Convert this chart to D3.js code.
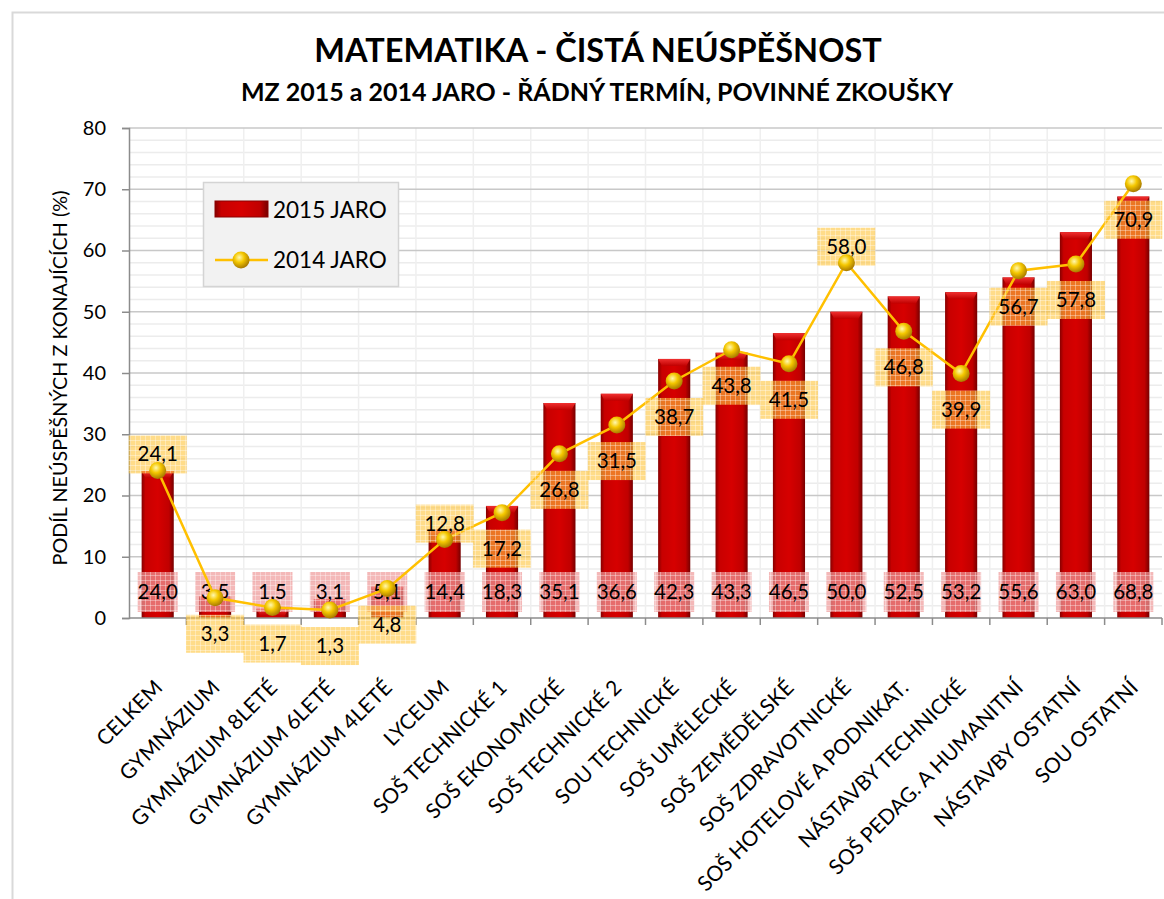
<!DOCTYPE html>
<html>
<head>
<meta charset="utf-8">
<script src="https://cdn.jsdelivr.net/npm/d3@7"></script>
<style>
  body { margin: 0; background: #fff; }
  text { font-family: Lato, "Open Sans", sans-serif; fill: #000; }
</style>
</head>
<body>
<svg id="chart" width="1164" height="899"></svg>
<script>
// data
var categories = ["CELKEM", "GYMNÁZIUM", "GYMNÁZIUM 8LETÉ", "GYMNÁZIUM 6LETÉ", "GYMNÁZIUM 4LETÉ",
  "LYCEUM", "SOŠ TECHNICKÉ 1", "SOŠ EKONOMICKÉ", "SOŠ TECHNICKÉ 2", "SOU TECHNICKÉ",
  "SOŠ UMĚLECKÉ", "SOŠ ZEMĚDĚLSKÉ", "SOŠ ZDRAVOTNICKÉ", "SOŠ HOTELOVÉ A PODNIKAT.",
  "NÁSTAVBY TECHNICKÉ", "SOŠ PEDAG. A HUMANITNÍ", "NÁSTAVBY OSTATNÍ", "SOU OSTATNÍ"];
var jaro2015 = [24.0, 3.5, 1.5, 3.1, 5.1, 14.4, 18.3, 35.1, 36.6, 42.3, 43.3, 46.5, 50.0, 52.5, 53.2, 55.6, 63.0, 68.8];
var jaro2014 = [24.1, 3.3, 1.7, 1.3, 4.8, 12.8, 17.2, 26.8, 31.5, 38.7, 43.8, 41.5, 58.0, 46.8, 39.9, 56.7, 57.8, 70.9];
// where Excel put the 2014 labels: above or below the point
var labelPos2014 = ["above", "below", "below", "below", "below", "above", "below", "below", "below", "below",
  "below", "below", "above", "below", "below", "below", "below", "below"];
var yTicks = [0, 10, 20, 30, 40, 50, 60, 70, 80];

var svg = d3.select("#chart");
var fmt = function(v) { return v.toFixed(1).replace(".", ","); };

var plot = {left: 129, right: 1162, top: 128, bottom: 618};

var x = d3.scaleBand().domain(categories).range([plot.left, plot.right]).padding(0);
var y = d3.scaleLinear().domain([0, 80]).range([plot.bottom, plot.top]);
var barW = x.bandwidth() * 0.56;
var cx = function(i) { return x(categories[i]) + x.bandwidth() / 2; };

// gradients & patterns
var defs = svg.append("defs");
var bg = defs.append("linearGradient").attr("id", "barGrad").attr("x1", 0).attr("x2", 1).attr("y1", 0).attr("y2", 0);
[["0%", "#860000"], ["12%", "#c80000"], ["50%", "#d60000"], ["85%", "#c00000"], ["100%", "#760000"]]
  .forEach(function(s) { bg.append("stop").attr("offset", s[0]).attr("stop-color", s[1]); });
var cap = defs.append("linearGradient").attr("id", "capGrad").attr("x1", 0).attr("x2", 0).attr("y1", 0).attr("y2", 1);
cap.append("stop").attr("offset", "0%").attr("stop-color", "#f03030");
cap.append("stop").attr("offset", "100%").attr("stop-color", "#c00000");
var ball = defs.append("radialGradient").attr("id", "ballGrad").attr("cx", "40%").attr("cy", "35%").attr("r", "65%");
ball.append("stop").attr("offset", "0%").attr("stop-color", "#fff8b0");
ball.append("stop").attr("offset", "45%").attr("stop-color", "#f5c800");
ball.append("stop").attr("offset", "100%").attr("stop-color", "#a87a00");

function hatch(id, base, op) {
  var p = defs.append("pattern").attr("id", id).attr("width", 5).attr("height", 5).attr("patternUnits", "userSpaceOnUse");
  p.append("rect").attr("width", 5).attr("height", 5).attr("fill", base).attr("fill-opacity", op);
  p.append("path").attr("d", "M0,0.5H5M0.5,0V5").attr("stroke", "#fff").attr("stroke-opacity", 0.35).attr("stroke-width", 1);
}
hatch("pinkHatch", "#f09a9a", 0.7);
hatch("goldHatch", "#ffc53a", 0.6);

// outer border
svg.append("rect").attr("x", 12.5).attr("y", 12.5).attr("width", 1200).attr("height", 1000)
  .attr("fill", "#fff").attr("stroke", "#d9d9d9").attr("stroke-width", 2);

// titles
svg.append("text").attr("x", 598).attr("y", 62).attr("text-anchor", "middle")
  .style("font-size", "32.5px").style("font-weight", "bold").text("MATEMATIKA - ČISTÁ NEÚSPĚŠNOST");
svg.append("text").attr("x", 597).attr("y", 101).attr("text-anchor", "middle")
  .style("font-size", "25px").style("font-weight", "bold").text("MZ 2015 a 2014 JARO - ŘÁDNÝ TERMÍN, POVINNÉ ZKOUŠKY");

// minor gridlines
var g = svg.append("g");
g.selectAll(".minor").data(d3.range(0, 81, 2).filter(function(v) { return v % 10 !== 0; }))
  .enter().append("line")
  .attr("x1", plot.left).attr("x2", plot.right)
  .attr("y1", function(d) { return y(d); }).attr("y2", function(d) { return y(d); })
  .attr("stroke", "#ececec").attr("stroke-width", 1.5);
// vertical gridlines at category boundaries
g.selectAll(".vgrid").data(categories.slice(1)).enter().append("line")
  .attr("x1", function(d) { return x(d); }).attr("x2", function(d) { return x(d); })
  .attr("y1", plot.top).attr("y2", plot.bottom)
  .attr("stroke", "#efefef").attr("stroke-width", 1.5);
// major gridlines
g.selectAll(".major").data(yTicks.slice(1)).enter().append("line")
  .attr("x1", plot.left).attr("x2", plot.right)
  .attr("y1", function(d) { return y(d); }).attr("y2", function(d) { return y(d); })
  .attr("stroke", "#c8c8c8").attr("stroke-width", 1.5);

// y axis
var yAxis = svg.append("g").attr("transform", "translate(" + plot.left + ",0)")
  .call(d3.axisLeft(y).tickValues(yTicks).tickSize(7).tickPadding(16).tickFormat(d3.format("d")));
yAxis.selectAll("path, line").attr("stroke", "#8c8c8c").attr("stroke-width", 1.5);
yAxis.selectAll("text").style("font-size", "20px").style("font-family", "Lato, sans-serif").attr("fill", "#000");

svg.append("text").attr("transform", "translate(67,378) rotate(-90)").attr("text-anchor", "middle")
  .style("font-size", "19.8px").text("PODÍL NEÚSPĚŠNÝCH Z KONAJÍCÍCH (%)");

// bars
var bars = svg.append("g");
bars.selectAll(".bar").data(jaro2015).enter().append("rect")
  .attr("x", function(d, i) { return cx(i) - barW / 2; })
  .attr("y", function(d) { return y(d); })
  .attr("width", barW)
  .attr("height", function(d) { return y(0) - y(d); })
  .attr("fill", "url(#barGrad)");
bars.selectAll(".cap").data(jaro2015).enter().append("path")
  .attr("d", function(d, i) {
    var l = cx(i) - barW / 2, r = cx(i) + barW / 2, t = y(d), h = Math.min(7, y(0) - y(d));
    return "M" + l + "," + t + "H" + r + "L" + (r - 4) + "," + (t + h) + "H" + (l + 4) + "Z";
  })
  .attr("fill", "url(#capGrad)");

// x axis line + ticks at boundaries
var xAxis = svg.append("g");
xAxis.append("line").attr("x1", plot.left).attr("x2", plot.right).attr("y1", y(0)).attr("y2", y(0))
  .attr("stroke", "#8c8c8c").attr("stroke-width", 1.5);
xAxis.selectAll(".xt").data(categories.slice(1).concat(["_end"])).enter().append("line")
  .attr("x1", function(d) { return d === "_end" ? plot.right : x(d); })
  .attr("x2", function(d) { return d === "_end" ? plot.right : x(d); })
  .attr("y1", y(0)).attr("y2", y(0) + 7)
  .attr("stroke", "#8c8c8c").attr("stroke-width", 1.5);
xAxis.selectAll(".xl").data(categories).enter().append("text")
  .attr("transform", function(d, i) { return "translate(" + (cx(i) + 6) + "," + 689 + ") rotate(-45)"; })
  .attr("text-anchor", "end")
  .style("font-size", "21px")
  .text(function(d) { return d; });

// 2015 labels at bar base
var bl = svg.append("g");
bl.selectAll("rect").data(jaro2015).enter().append("rect")
  .attr("x", function(d, i) { return cx(i) - 20; }).attr("y", 572)
  .attr("width", 40).attr("height", 40).attr("fill", "url(#pinkHatch)");
bl.selectAll("text").data(jaro2015).enter().append("text")
  .attr("x", function(d, i) { return cx(i); }).attr("y", 599)
  .attr("text-anchor", "middle").style("font-size", "20.5px")
  .text(fmt);

// 2014 line
var line = d3.line().x(function(d, i) { return cx(i); }).y(function(d) { return y(d); });
svg.append("path").datum(jaro2014).attr("d", line)
  .attr("fill", "none").attr("stroke", "#ffc000").attr("stroke-width", 2.5);

// 2014 labels
var ll = svg.append("g");
var labelY = function(d, i) { return labelPos2014[i] === "above" ? y(d) - 16 : y(d) + 36; };
ll.selectAll("rect").data(jaro2014).enter().append("rect")
  .attr("x", function(d, i) { return cx(i) - 29; })
  .attr("y", function(d, i) { return labelY(d, i) - 19; })
  .attr("width", 58).attr("height", 38).attr("fill", "url(#goldHatch)");
ll.selectAll("text").data(jaro2014).enter().append("text")
  .attr("x", function(d, i) { return cx(i); })
  .attr("y", function(d, i) { return labelY(d, i) + 7; })
  .attr("text-anchor", "middle").style("font-size", "20.5px")
  .text(fmt);

// markers
svg.append("g").selectAll("circle").data(jaro2014).enter().append("circle")
  .attr("cx", function(d, i) { return cx(i); }).attr("cy", function(d) { return y(d); })
  .attr("r", 8.5).attr("fill", "url(#ballGrad)");

// legend
var lg = svg.append("g");
lg.append("rect").attr("x", 203.5).attr("y", 182.5).attr("width", 195).attr("height", 104)
  .attr("fill", "#f2f2f2").attr("stroke", "#d4d4d4").attr("stroke-width", 1.5);
lg.append("rect").attr("x", 215).attr("y", 201).attr("width", 53).attr("height", 16)
  .attr("fill", "url(#barGrad)").attr("stroke", "#8a0000").attr("stroke-width", 1);
lg.append("line").attr("x1", 215).attr("x2", 268).attr("y1", 260).attr("y2", 260)
  .attr("stroke", "#ffc000").attr("stroke-width", 2.5);
lg.append("circle").attr("cx", 241).attr("cy", 260).attr("r", 8.5).attr("fill", "url(#ballGrad)");
lg.append("text").attr("x", 273).attr("y", 218).style("font-size", "22.5px").text("2015 JARO");
lg.append("text").attr("x", 273).attr("y", 268).style("font-size", "22.5px").text("2014 JARO");
</script>
</body>
</html>
